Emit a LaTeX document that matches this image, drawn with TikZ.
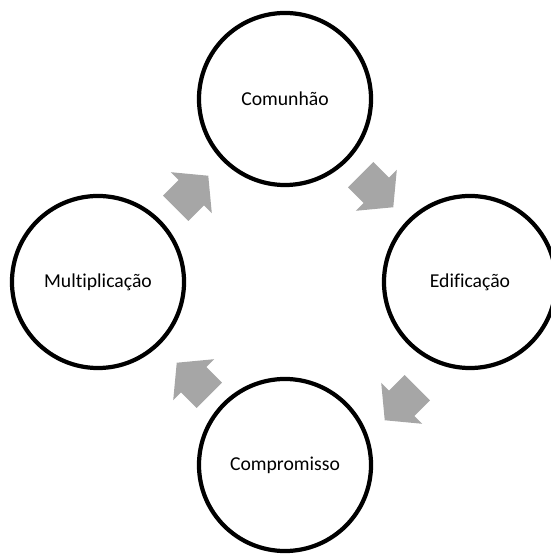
\documentclass[tikz,border=0pt]{standalone}
\usepackage{fontspec}
\setmainfont{Carlito}[Ligatures={NoCommon}]
\definecolor{arrowgray}{RGB}{166,166,166}
\tikzset{
  stage/.style={circle, draw=black, line width=3pt, minimum size=4.3cm,
    inner sep=0pt, font=\fontsize{14}{16}\selectfont},
  pics/cyclearrow/.style={code={
    \fill[arrowgray] (-23,-18) -- (-1,-18) -- (-1,-29) -- (23,0)
      -- (-1,29) -- (-1,18) -- (-23,18) -- cycle;
  }}
}
\begin{document}
\begin{tikzpicture}[x=0.025cm,y=0.025cm]
    \useasboundingbox (0,0) rectangle (550,556);

    % Stages of the cycle
    \node[stage] (comunhao) at (285,457) {Comunhão};
    \node[stage] (edificacao) at (470,274) {Edificação};
    \node[stage] (compromisso) at (285,91) {Compromisso};
    \node[stage] (multiplicacao) at (98,274) {Multiplicação};

    % Block arrows, clockwise
    \pic[rotate=-45] at (377,365) {cyclearrow};
    \pic[rotate=-135] at (401,152) {cyclearrow};
    \pic[rotate=135] at (193,177) {cyclearrow};
    \pic[rotate=45] at (192,364) {cyclearrow};
  \end{tikzpicture}
\end{document}
